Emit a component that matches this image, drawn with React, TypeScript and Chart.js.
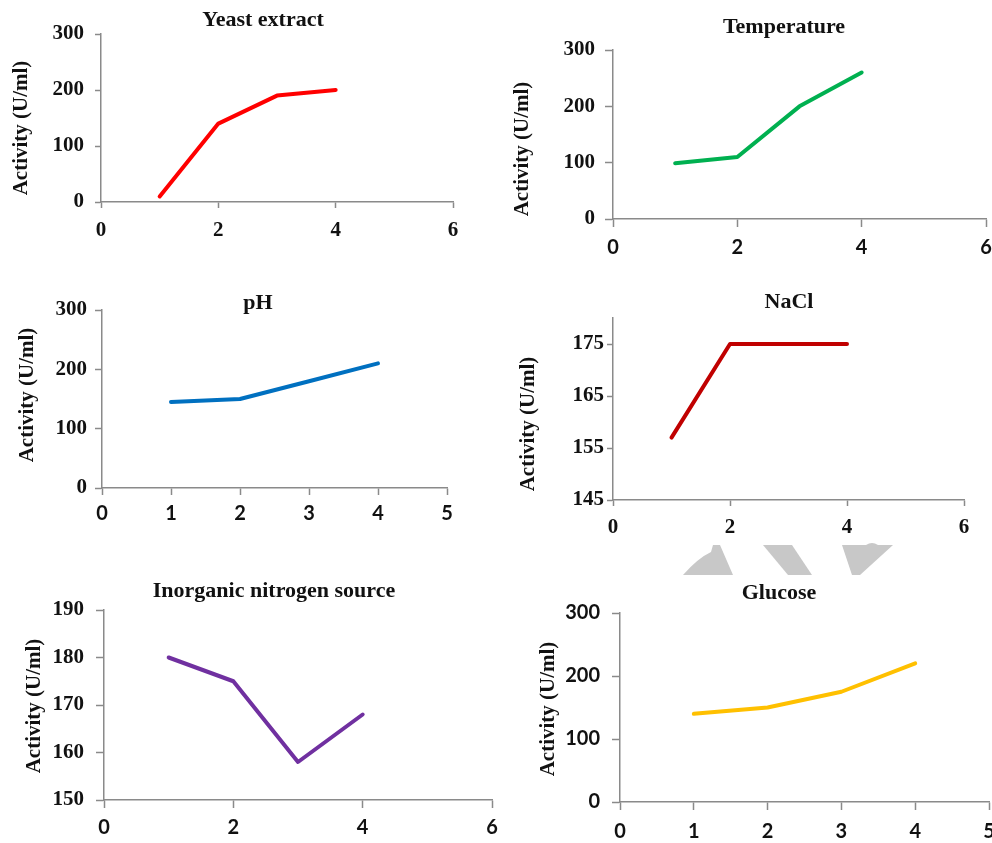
import React, { useEffect, useRef } from "react";
import { Chart, registerables } from "chart.js";

Chart.register(...registerables);

// ---------- data ----------
const X_VALUES = [1, 2, 3, 4];
const YEAST_EXTRACT = [10, 140, 190, 200];
const TEMPERATURE = [99, 110, 200, 260];
const PH = [145, 150, 180, 210];
const NACL = [157, 175, 175, 175];
const INORGANIC_NITROGEN = [180, 175, 158, 168];
const GLUCOSE = [140, 150, 175, 220];

const X_TICKS_EVEN = [0, 2, 4, 6];
const X_TICKS_UNIT = [0, 1, 2, 3, 4, 5];
const Y_TICKS_300 = [0, 100, 200, 300];
const Y_TICKS_NACL = [145, 155, 165, 175];
const Y_TICKS_NITROGEN = [150, 160, 170, 180, 190];

const Y_TITLE = "Activity (U/ml)";

const SERIF = '"Liberation Serif", "Times New Roman", serif';
const SANS = 'Lato, "Liberation Sans", sans-serif';

// ---------- layout (absolute page coords) ----------
type PanelCfg = {
  title: string;
  values: number[];
  color: string;
  xMax: number;
  xTicks: number[];
  yMin: number;
  yMax: number;
  yTicks: number[];
  area: { l: number; r: number; t: number; b: number };
  titlePos: [number, number];
  yTitlePos: [number, number];
  yFont: string;
  xFont: string;
  tickLen: number;
  yPad: number;
  xPad: number;
};

const PANELS: PanelCfg[] = [
  {
    title: "Yeast extract", values: YEAST_EXTRACT, color: "#FF0000",
    xMax: 6, xTicks: X_TICKS_EVEN, yMin: 0, yMax: 300, yTicks: Y_TICKS_300,
    area: { l: 101, r: 453, t: 34, b: 202 }, titlePos: [263, 20], yTitlePos: [22, 128],
    yFont: SERIF, xFont: SERIF, tickLen: 6, yPad: 11, xPad: 10,
  },
  {
    title: "Temperature", values: TEMPERATURE, color: "#00B050",
    xMax: 6, xTicks: X_TICKS_EVEN, yMin: 0, yMax: 300, yTicks: Y_TICKS_300,
    area: { l: 613, r: 986, t: 50, b: 219 }, titlePos: [784, 27], yTitlePos: [523, 149],
    yFont: SERIF, xFont: SANS, tickLen: 8, yPad: 10, xPad: 9,
  },
  {
    title: "pH", values: PH, color: "#0070C0",
    xMax: 5, xTicks: X_TICKS_UNIT, yMin: 0, yMax: 300, yTicks: Y_TICKS_300,
    area: { l: 102, r: 447, t: 310, b: 488 }, titlePos: [258, 303], yTitlePos: [28, 395],
    yFont: SERIF, xFont: SANS, tickLen: 7, yPad: 8, xPad: 7,
  },
  {
    title: "NaCl", values: NACL, color: "#C00000",
    xMax: 6, xTicks: X_TICKS_EVEN, yMin: 145, yMax: 180, yTicks: Y_TICKS_NACL,
    area: { l: 613, r: 964, t: 318, b: 500 }, titlePos: [789, 302], yTitlePos: [529, 424],
    yFont: SERIF, xFont: SERIF, tickLen: 6, yPad: 3, xPad: 9,
  },
  {
    title: "Inorganic nitrogen source", values: INORGANIC_NITROGEN, color: "#7030A0",
    xMax: 6, xTicks: X_TICKS_EVEN, yMin: 150, yMax: 190, yTicks: Y_TICKS_NITROGEN,
    area: { l: 104, r: 492, t: 610, b: 800 }, titlePos: [274, 591], yTitlePos: [35, 706],
    yFont: SERIF, xFont: SANS, tickLen: 8, yPad: 12, xPad: 8,
  },
  {
    title: "Glucose", values: GLUCOSE, color: "#FFC000",
    xMax: 5, xTicks: X_TICKS_UNIT, yMin: 0, yMax: 300, yTicks: Y_TICKS_300,
    area: { l: 620, r: 989, t: 613, b: 802 }, titlePos: [779, 593], yTitlePos: [549, 709],
    yFont: SANS, xFont: SANS, tickLen: 8, yPad: 12, xPad: 10,
  },
];

const LEFT_SPACE = 100;
const TOP_SPACE = 50;
const RIGHT_SPACE = 20;
const BOTTOM_SPACE = 45;
const AXIS_COLOR = "#8a8a8a";

const panelText = {
  id: "panelText",
  afterDraw(chart: any, _args: any, opts: any) {
    const ctx = chart.ctx;
    ctx.save();
    ctx.fillStyle = "#111";
    ctx.textAlign = "center";
    ctx.textBaseline = "middle";
    ctx.font = `bold 22px ${SERIF}`;
    ctx.fillText(opts.title, opts.titleX, opts.titleY);
    ctx.font = `bold 21px ${SERIF}`;
    ctx.translate(opts.yTitleX, opts.yTitleY);
    ctx.rotate(-Math.PI / 2);
    ctx.fillText(opts.yTitle, 0, 0);
    ctx.restore();
  },
};

function Panel({ cfg }: { cfg: PanelCfg }) {
  const ref = useRef<HTMLCanvasElement | null>(null);
  const left = cfg.area.l - LEFT_SPACE;
  const top = cfg.area.t - TOP_SPACE;
  const width = cfg.area.r - cfg.area.l + LEFT_SPACE + RIGHT_SPACE;
  const height = cfg.area.b - cfg.area.t + TOP_SPACE + BOTTOM_SPACE;

  useEffect(() => {
    if (!ref.current) return;
    const fontSize = (f: string) => (f === SERIF ? 21 : 20);
    const chart = new Chart(ref.current, {
      type: "line",
      data: {
        datasets: [
          {
            data: X_VALUES.map((x, i) => ({ x, y: cfg.values[i] })),
            borderColor: cfg.color,
            borderWidth: 4,
            borderCapStyle: "round",
            borderJoinStyle: "round",
            pointRadius: 0,
            tension: 0,
            fill: false,
          },
        ],
      },
      options: {
        responsive: false,
        animation: false,
        events: [],
        layout: { padding: { left: 0, top: TOP_SPACE, right: RIGHT_SPACE, bottom: 0 } },
        plugins: {
          legend: { display: false },
          tooltip: { enabled: false },
          title: { display: false },
          panelText: {
            title: cfg.title,
            titleX: cfg.titlePos[0] - left,
            titleY: cfg.titlePos[1] - top,
            yTitle: Y_TITLE,
            yTitleX: cfg.yTitlePos[0] - left,
            yTitleY: cfg.yTitlePos[1] - top,
          },
        } as any,
        scales: {
          x: {
            type: "linear",
            min: 0,
            max: cfg.xMax,
            afterBuildTicks: (s: any) => {
              s.ticks = cfg.xTicks.map((v) => ({ value: v }));
            },
            afterFit: (s: any) => {
              s.height = BOTTOM_SPACE;
            },
            grid: {
              display: true,
              drawOnChartArea: false,
              drawTicks: true,
              tickLength: cfg.tickLen,
              tickColor: AXIS_COLOR,
              tickWidth: 1.5,
            },
            border: { display: true, color: AXIS_COLOR, width: 1.5 },
            ticks: {
              padding: cfg.xPad,
              color: "#111",
              font: { family: cfg.xFont, size: fontSize(cfg.xFont), weight: "bold" },
              maxRotation: 0,
              autoSkip: false,
            },
          },
          y: {
            type: "linear",
            min: cfg.yMin,
            max: cfg.yMax,
            afterBuildTicks: (s: any) => {
              s.ticks = cfg.yTicks.map((v) => ({ value: v }));
            },
            afterFit: (s: any) => {
              s.width = LEFT_SPACE;
            },
            grid: {
              display: true,
              drawOnChartArea: false,
              drawTicks: true,
              tickLength: cfg.tickLen,
              tickColor: AXIS_COLOR,
              tickWidth: 1.5,
            },
            border: { display: true, color: AXIS_COLOR, width: 1.5 },
            ticks: {
              padding: cfg.yPad,
              color: "#111",
              font: { family: cfg.yFont, size: fontSize(cfg.yFont), weight: "bold" },
              autoSkip: false,
            },
          },
        },
      } as any,
      plugins: [panelText],
    });
    return () => chart.destroy();
  }, []);

  return (
    <canvas
      ref={ref}
      width={width}
      height={height}
      style={{ position: "absolute", left, top, width, height }}
    />
  );
}

function Watermark() {
  return (
    <svg
      width={992}
      height={843}
      style={{ position: "absolute", left: 0, top: 0 }}
      aria-hidden="true"
    >
      <g fill="#c8c8c8">
        <path d="M683 575 Q698 558 711 552 L713 545 L720 545 L733 575 Z" />
        <path d="M763 545 L792 545 L812 575 L788 575 Z" />
        <path d="M842 545 L866 545 Q872 541 878 545 L893 545 L860 575 L852 575 Z" />
      </g>
    </svg>
  );
}

export default function App() {
  return (
    <div
      style={{
        position: "absolute",
        left: 0,
        top: 0,
        width: 992,
        height: 843,
        background: "#fff",
        overflow: "hidden",
      }}
    >
      <Watermark />
      {PANELS.map((p) => (
        <Panel key={p.title} cfg={p} />
      ))}
    </div>
  );
}
